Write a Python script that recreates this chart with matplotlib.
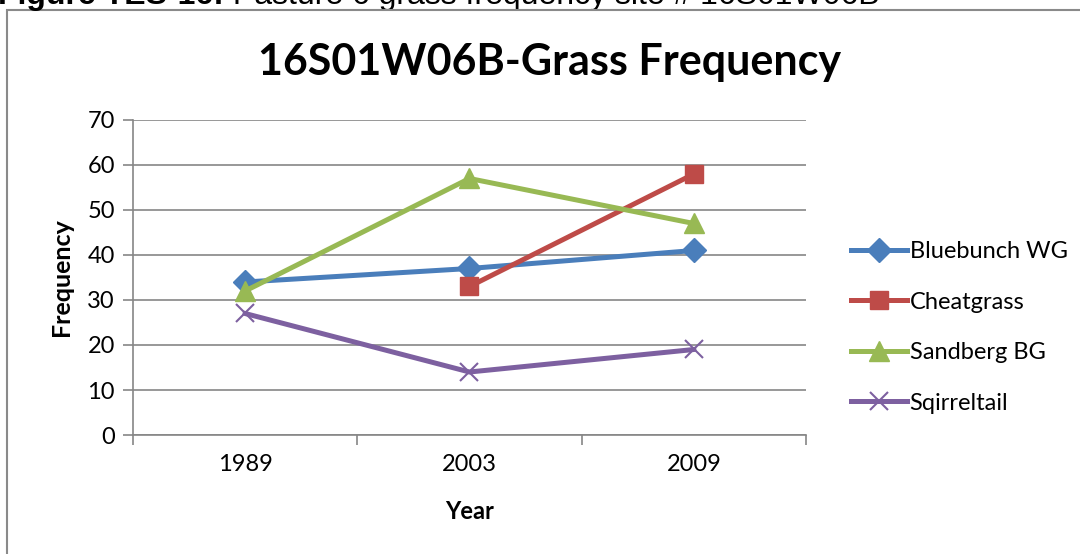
import matplotlib.pyplot as plt
import numpy as np
from matplotlib.patches import Rectangle

years = ['1989', '2003', '2009']
bluebunch = [34, 37, 41]
cheatgrass = [np.nan, 33, 58]
sandberg = [32, 57, 47]
squirreltail = [27, 14, 19]

plt.rcParams['font.family'] = ['Lato', 'DejaVu Sans']

fig = plt.figure(figsize=(10.8, 5.54), dpi=100)
ax = fig.add_axes([0.1231, 0.2148, 0.6232, 0.5686])

x = np.arange(len(years))
ax.plot(x, bluebunch, color='#4A7EBB', lw=3.6, marker='D', ms=12, label='Bluebunch WG')
ax.plot(x, cheatgrass, color='#BE4B48', lw=3.6, marker='s', ms=13, label='Cheatgrass')
ax.plot(x, sandberg, color='#98B954', lw=3.6, marker='^', ms=14, label='Sandberg BG')
ax.plot(x, squirreltail, color='#7D60A0', lw=3.6, marker='x', ms=13, mew=1.5, label='Sqirreltail')

ax.set_xlim(-0.5, 2.5)
ax.set_ylim(0, 70)
ax.set_yticks(range(0, 71, 10))
ax.set_xticks(x)
ax.set_xticklabels(years)
ax.set_xticks([-0.5, 0.5, 1.5, 2.5], minor=True)
ax.tick_params(axis='x', which='major', length=0, pad=14, labelsize=17)
ax.tick_params(axis='x', which='minor', length=7, color='#868686', width=1.2)
ax.tick_params(axis='y', length=7, color='#868686', width=1.2, labelsize=17, pad=6)
ax.grid(axis='y', color='#868686', lw=1.2)
ax.set_axisbelow(True)
for s in ['top', 'right']:
    ax.spines[s].set_visible(False)
for s in ['left', 'bottom']:
    ax.spines[s].set_color('#868686')
    ax.spines[s].set_linewidth(1.2)

ax.set_ylabel('Frequency', fontsize=18, fontweight='bold', labelpad=10)
ax.set_xlabel('Year', fontsize=17, fontweight='bold', labelpad=18)

fig.text(0.509, 0.888, '16S01W06B-Grass Frequency', fontsize=31, fontweight='bold',
         ha='center', va='center')

ax.legend(loc='center left', bbox_to_anchor=(0.768, 0.409), bbox_transform=fig.transFigure,
          frameon=False, fontsize=17, handlelength=2.4, handletextpad=0.1,
          labelspacing=1.25)

# outer chart border
fig.add_artist(Rectangle((7 / 1080, -0.1), 1.2, 1.1 - 10 / 554, transform=fig.transFigure,
                         fill=False, ec='#8a8a8a', lw=1.5))

# caption from the document above the chart, cut off by the top edge
t1 = fig.text(-0.002, 1 - 4 / 554, 'Figure TES-16:', fontsize=23, fontweight='bold',
              family='Liberation Sans', va='baseline')
ax.annotate(' Pasture 6 grass frequency site # 16S01W06B', xy=(1, 0), xycoords=t1,
            va='bottom', ha='left', fontsize=23, family='Liberation Sans',
            annotation_clip=False)

fig.savefig('out.png', dpi=100)
